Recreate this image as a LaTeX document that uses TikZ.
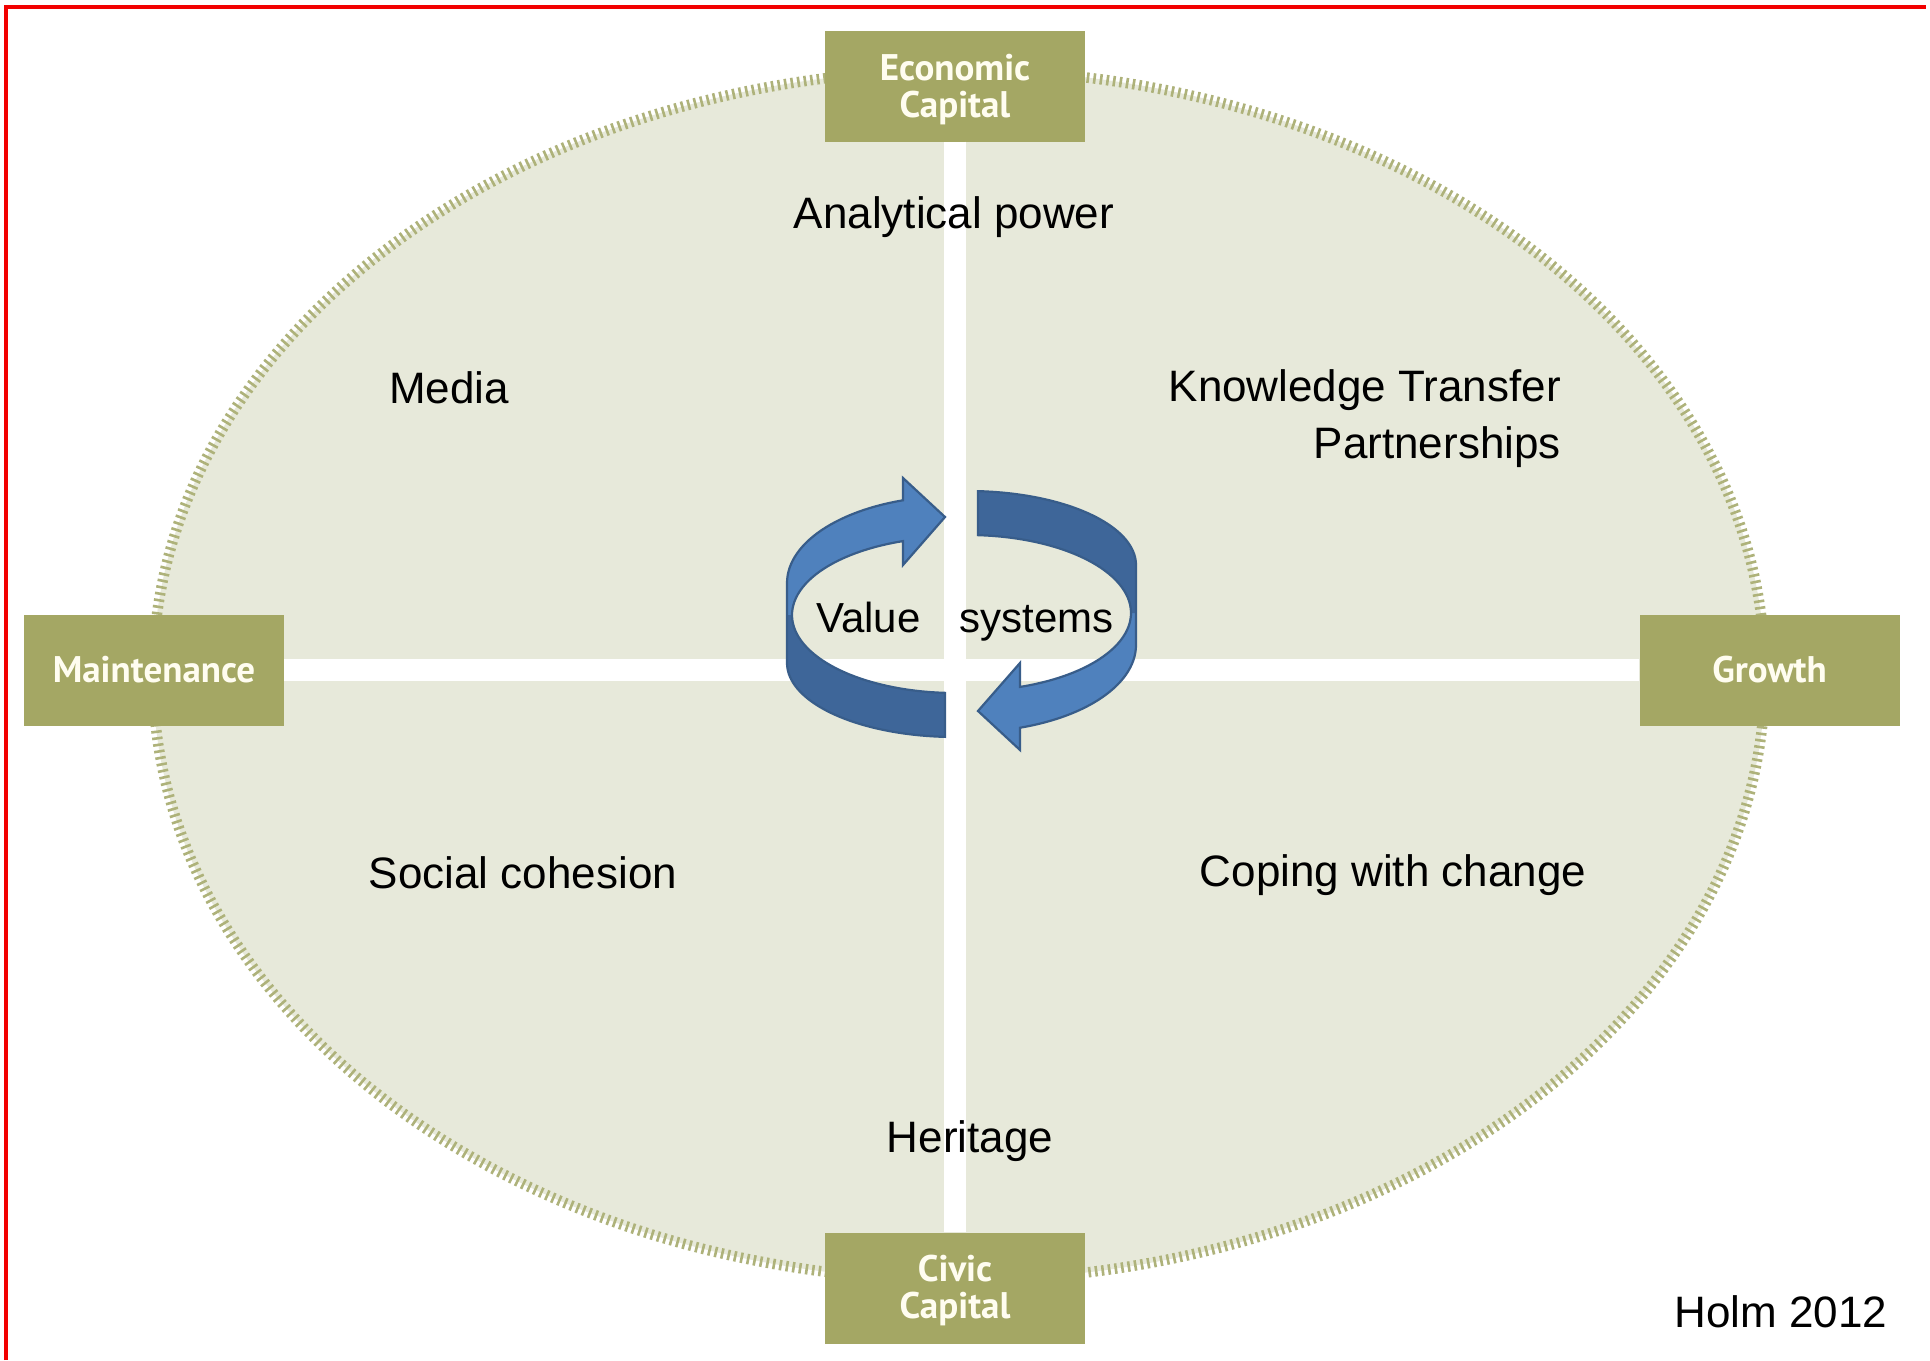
\documentclass[tikz,border=0pt]{standalone}
\usepackage{fontspec}
\newfontfamily\labfont{Liberation Sans}
\newfontfamily\boxfont{PT Sans}
\definecolor{ellfill}{HTML}{E7E9DA}
\definecolor{tickcol}{HTML}{AEB27A}
\definecolor{olive}{HTML}{A4A764}
\definecolor{cream}{HTML}{FFFDF0}
\definecolor{arrlight}{HTML}{4F81BD}
\definecolor{arrdark}{HTML}{3E6699}
\definecolor{arrline}{HTML}{385D8A}
\definecolor{framered}{HTML}{F20000}
\begin{document}
\begin{tikzpicture}[x=1pt,y=-1pt,
  olivebox/.style={fill=olive, minimum width=260pt, minimum height=111pt, inner sep=0pt,
    text=cream, font=\boxfont\bfseries\fontsize{37}{37}\selectfont, align=center},
  lab/.style={font=\labfont\fontsize{44}{57}\selectfont, inner sep=0pt, text=black},
  vlab/.style={font=\labfont\fontsize{42}{50}\selectfont, inner sep=0pt, text=black},
  crossline/.style={draw=white, line width=22pt},
  arrowfill/.style={fill=arrlight},
  arrowdark/.style={fill=arrdark},
  arrowedge/.style={draw=arrline, line width=2.2pt, line join=miter}]
\useasboundingbox (0,0) rectangle (1930,1360);
\fill[white] (0,0) rectangle (1930,1360);
% ellipse
\fill[ellfill] (959,675) ellipse [x radius=806pt, y radius=605pt];
\draw[tickcol, line width=10.5pt, dash pattern=on 2.6pt off 4pt] (959,675) ellipse [x radius=806pt, y radius=605pt];
% boxes
\node[olivebox] (econ) at (955,86) {\rule{0pt}{33pt}Economic\\Capital};
\node[olivebox] (civic) at (955,1288) {\rule{0pt}{31pt}Civic\\Capital};
\node[olivebox] (maint) at (154,670) {Maintenance};
\node[olivebox] (growth) at (1769.5,670) {Growth};
% white cross
\draw[crossline] (econ.south) -- (civic.north);
\draw[crossline] (maint.east) -- (growth.west);
% labels
\node[lab] (anal) at (954,217) {Analytical power};
\node[lab] (media) at (449,388) {Media};
\node[lab, align=right, anchor=east] (ktp) at (1561,419) {Knowledge Transfer\\Partnerships};
\node[lab] (social) at (523,873) {Social cohesion};
\node[lab] (coping) at (1393,875) {Coping with change};
\node[lab] (herit) at (970,1141) {Heritage};
\node[lab] (holm) at (1781,1312) {Holm 2012};
% circular arrows
\foreach \rot in {0,180}{
\begin{scope}[shift={(961.5,614)}, rotate=\rot]
  \fill[arrowfill] (-16.5,-97) -- (-58.5,-136) --
    plot[domain=252:180, samples=30] ({-6.5+168*cos(\x)},{-31+87*sin(\x)}) --
    plot[domain=180:93.4, samples=40] ({-6.5+168*cos(\x)},{49+74*sin(\x)}) --
    plot[domain=93.5:251.4, samples=60] ({-6.5+163*cos(\x)},{1+78*sin(\x)}) --
    (-58.5,-49) -- cycle;
  \fill[arrowdark] (-174.5,1) --
    plot[domain=180:93.4, samples=40] ({-6.5+168*cos(\x)},{49+74*sin(\x)}) --
    plot[domain=93.5:180, samples=40] ({-6.5+163*cos(\x)},{1+78*sin(\x)}) -- cycle;
  \draw[arrowedge] (-16.5,-97) -- (-58.5,-136) --
    plot[domain=252:180, samples=30] ({-6.5+168*cos(\x)},{-31+87*sin(\x)}) --
    plot[domain=180:93.4, samples=40] ({-6.5+168*cos(\x)},{49+74*sin(\x)}) --
    plot[domain=93.5:251.4, samples=60] ({-6.5+163*cos(\x)},{1+78*sin(\x)}) --
    (-58.5,-49) -- cycle;
\end{scope}}
\node[vlab, anchor=base] (value) at (868.5,632) {Value};
\node[vlab, anchor=base] (systems) at (1036.5,632) {systems};
% red frame
\draw[framered, line width=4pt] (6,1360) -- (6,6.5) -- (1926,6.5);
\end{tikzpicture}
\end{document}
